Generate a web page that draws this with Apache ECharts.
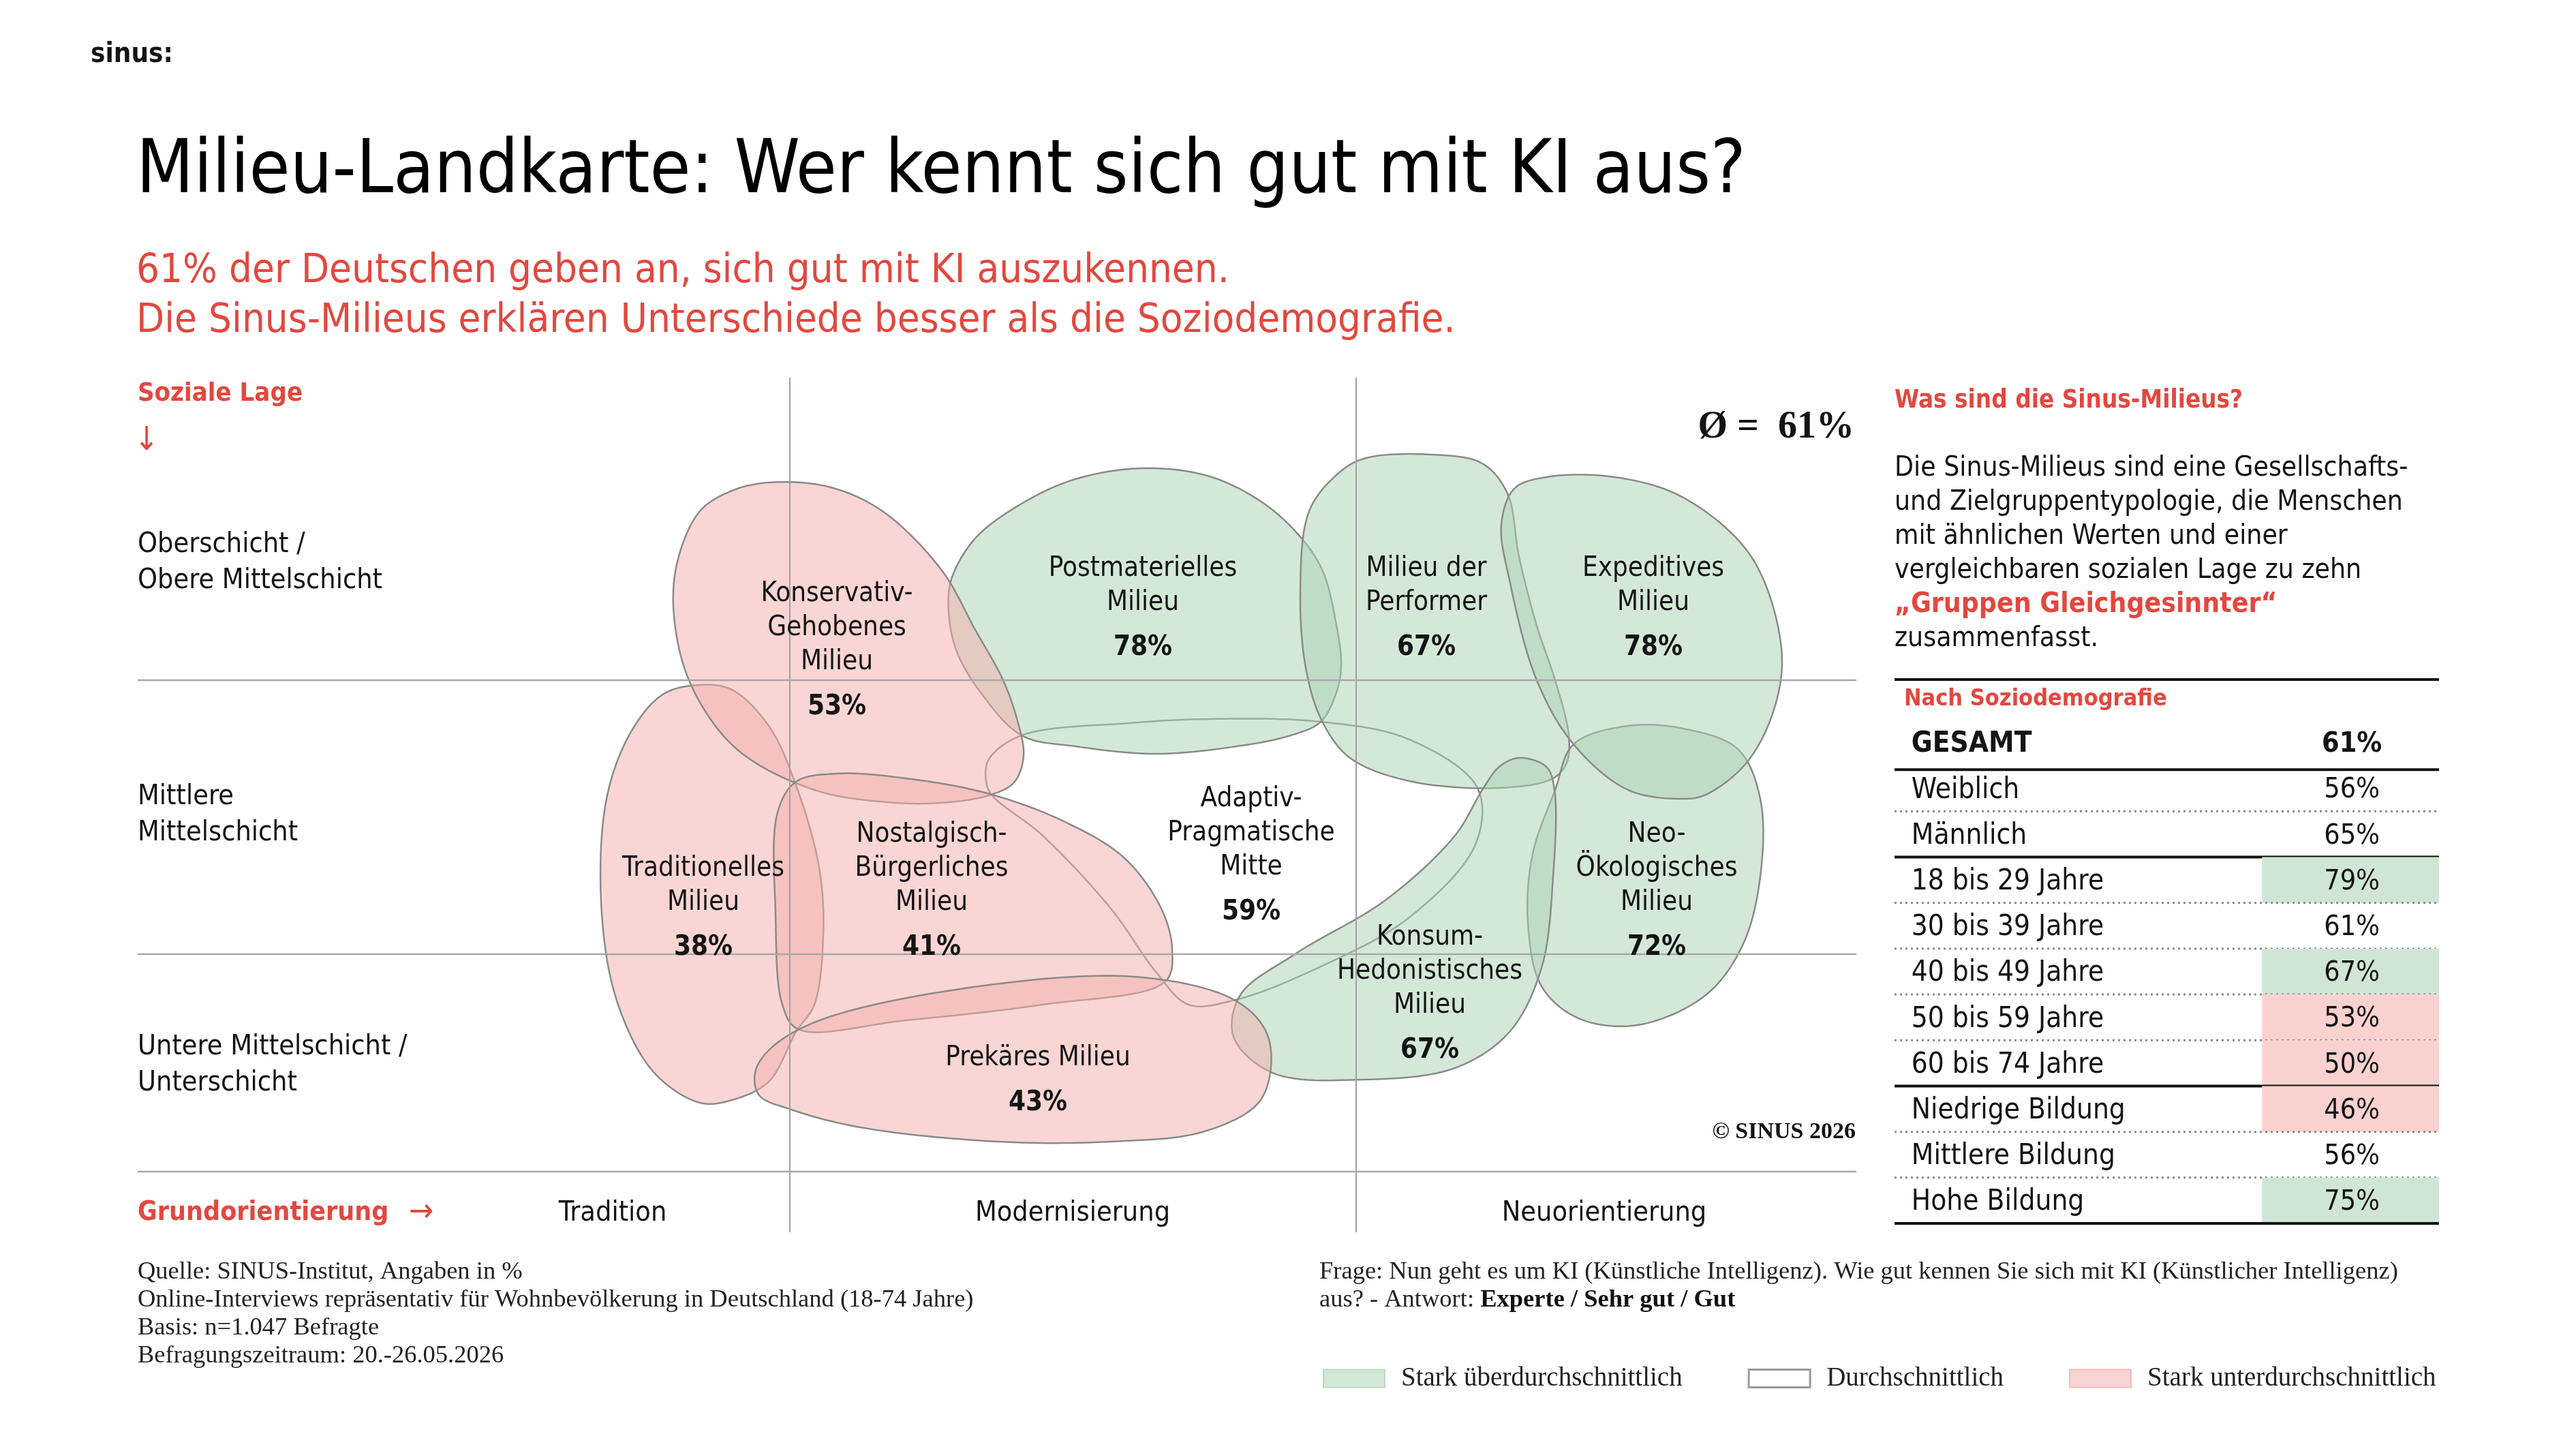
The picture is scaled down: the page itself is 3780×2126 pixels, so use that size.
<!DOCTYPE html>
<html>
<head>
<meta charset="utf-8">
<script src="https://cdn.jsdelivr.net/npm/echarts@6/dist/echarts.min.js"></script>
<style>
  html, body { margin: 0; padding: 0; background: #fff; }
  #main { width: 3780px; height: 2126px; }
</style>
</head>
<body>
<div id="main"></div>
<script>
// ---- Daten ----
const milieuNames = [
  'Konservativ-\nGehobenes\nMilieu',
  'Postmaterielles\nMilieu',
  'Milieu der\nPerformer',
  'Expeditives\nMilieu',
  'Adaptiv-\nPragmatische\nMitte',
  'Traditionelles\nMilieu',
  'Nostalgisch-\nBürgerliches\nMilieu',
  'Neo-\nÖkologisches\nMilieu',
  'Konsum-\nHedonistisches\nMilieu',
  'Prekäres Milieu'
];
const milieuValues = [53, 78, 67, 78, 59, 38, 41, 72, 67, 43];
const averageValue = 61;

const socialClasses = ['Oberschicht /\nObere Mittelschicht', 'Mittlere\nMittelschicht', 'Untere Mittelschicht /\nUnterschicht'];
const orientations = ['Tradition', 'Modernisierung', 'Neuorientierung'];

const demoRows = ['GESAMT', 'Weiblich', 'Männlich', '18 bis 29 Jahre', '30 bis 39 Jahre', '40 bis 49 Jahre',
  '50 bis 59 Jahre', '60 bis 74 Jahre', 'Niedrige Bildung', 'Mittlere Bildung', 'Hohe Bildung'];
const demoValues = [61, 56, 65, 79, 61, 67, 53, 50, 46, 56, 75];
const demoGroups = ['Gesamt', 'Geschlecht', 'Geschlecht', 'Alter', 'Alter', 'Alter', 'Alter', 'Alter',
  'Bildung', 'Bildung', 'Bildung'];

const legendNames = ['Stark überdurchschnittlich', 'Durchschnittlich', 'Stark unterdurchschnittlich'];

// ---- Kartengeometrie (Karteneinheiten) ----
const mapW = 252.2, mapH = 125.4;
const orientationBounds = [95.7, 178.8];
const classBounds = [44.4, 84.6, 116.5];
// Umrisse der Milieus, gleiche Reihenfolge wie milieuNames
const milieuOutlines = [
  [[92.6,15.4],[101.3,16.0],[109.3,19.6],[118.0,28.3],[122.9,37.0],[126.9,44.2],[129.0,50.0],[130.0,55.5],[128.6,59.4],[124.9,61.3],[117.8,62.4],[110.0,62.3],[99.3,60.5],[87.9,54.5],[81.2,45.1],[78.7,35.0],[79.2,27.0],[82.5,19.6],[87.2,16.6]],
  [[147.5,13.3],[157.3,14.5],[165.3,18.5],[170.8,23.6],[173.9,28.4],[175.9,36.3],[176.6,42.2],[175.9,46.2],[173.6,50.5],[169.2,52.5],[161.3,54.1],[149.4,55.2],[137.6,54.1],[129.7,52.5],[123.7,46.2],[120.2,40.2],[119.0,34.3],[119.4,29.6],[122.9,23.6],[129.7,18.5],[137.6,14.9]],
  [[179.9,11.9],[189.9,11.3],[197.3,12.6],[201.0,17.0],[202.7,26.3],[205.3,36.4],[208.0,44.4],[210.0,52.5],[209.7,56.5],[207.7,58.8],[200.0,60.2],[186.6,59.2],[177.9,55.8],[173.9,50.6],[171.5,43.1],[170.6,31.7],[171.9,19.6],[175.9,14.3]],
  [[206.7,14.6],[216.7,14.6],[226.8,17.6],[236.8,26.3],[241.2,39.7],[240.2,48.4],[236.1,56.5],[230.1,61.2],[226.8,61.8],[218.7,60.5],[210.7,53.8],[205.3,44.4],[201.3,29.7],[200.1,21.6],[202.0,16.3]],
  [[125.3,61.2],[124.5,59.2],[124.9,56.0],[129.7,52.5],[145.5,50.7],[157.3,50.1],[173.6,50.5],[186.6,53.1],[196.6,60.2],[196.3,68.5],[186.6,79.2],[173.2,86.6],[161.1,91.3],[154.2,92.0],[149.5,87.3],[142.8,77.9],[132.8,67.2]],
  [[82.5,45.1],[87.2,45.8],[92.6,51.1],[96.6,59.8],[100.0,71.9],[100.6,81.9],[99.3,92.0],[96.6,96.0],[92.6,103.3],[87.2,106.0],[82.5,106.4],[75.8,102.0],[70.5,92.0],[68.1,78.6],[68.8,61.8],[72.5,51.8],[77.2,46.4]],
  [[96.6,59.3],[93.9,63.8],[93.6,78.6],[94.6,92.0],[96.9,95.6],[112.7,94.3],[132.8,92.0],[150.8,88.6],[151.8,83.9],[150.2,77.9],[144.8,70.5],[136.1,65.2],[124.7,61.0],[112.7,58.8],[102.6,58.1]],
  [[210.7,53.8],[218.7,51.1],[226.8,51.5],[234.8,54.5],[238.1,61.8],[238.1,73.2],[235.5,83.3],[230.1,90.6],[220.1,95.0],[211.4,94.0],[206.0,89.3],[204.0,79.9],[204.7,69.9],[208.0,60.5]],
  [[202.7,55.8],[206.7,57.1],[207.9,60.5],[207.7,73.2],[206.0,86.6],[201.3,96.0],[193.3,101.3],[179.9,103.0],[166.5,102.0],[160.8,96.7],[161.8,90.6],[169.8,84.6],[183.2,76.6],[193.3,67.2],[197.3,60.5],[199.8,57.1]],
  [[90.6,102.0],[92.6,98.7],[99.3,94.6],[119.4,89.9],[146.2,87.9],[160.9,91.3],[165.6,96.0],[166.2,102.0],[164.2,106.7],[156.2,110.7],[142.8,112.1],[126.1,112.1],[106.0,110.0],[95.9,107.4],[91.2,105.3]]
];
const labelAnchors = [[102.6,40.9],[147.5,34.7],[189.1,34.7],[222.4,34.7],[163.4,71.0],[83.0,78.7],[116.5,76.2],[222.9,76.2],[189.6,91.3],[132.1,104.0]];
// Zeichenreihenfolge (spätere liegen oben)
const drawOrder = [1, 2, 4, 7, 8, 3, 5, 0, 6, 9];

// ---- Stil ----
const SANS = '"DejaVu Sans Condensed", "DejaVu Sans", sans-serif';
const SERIF = '"Liberation Serif", "DejaVu Serif", serif';
const RED = '#e2483f';
const INK = '#141414';
const BLOB_FILL = ['rgba(169,209,177,0.5)', 'rgba(255,255,255,0)', 'rgba(243,173,169,0.5)'];
const CELL_FILL = ['#d0e6d5', null, '#f9d2d0'];

// 0 = stark über, 1 = durchschnittlich, 2 = stark unter
function classOf(v) {
  const d = v - averageValue;
  return d >= 6 ? 0 : (d <= -6 ? 2 : 1);
}

// geschlossene Catmull-Rom-Kurve (zentripetal) durch die Pixelpunkte
function closedSpline(pts, steps) {
  const n = pts.length, out = [];
  const dist = (a, b) => Math.pow(Math.hypot(b[0] - a[0], b[1] - a[1]), 0.5) || 1e-4;
  for (let i = 0; i < n; i++) {
    const p0 = pts[(i - 1 + n) % n], p1 = pts[i], p2 = pts[(i + 1) % n], p3 = pts[(i + 2) % n];
    const d1 = dist(p0, p1), d2 = dist(p1, p2), d3 = dist(p2, p3);
    const b1 = [0, 1].map(k => (d1 * d1 * p2[k] - d2 * d2 * p0[k] + (2 * d1 * d1 + 3 * d1 * d2 + d2 * d2) * p1[k]) / (3 * d1 * (d1 + d2)));
    const b2 = [0, 1].map(k => (d3 * d3 * p1[k] - d2 * d2 * p3[k] + (2 * d3 * d3 + 3 * d3 * d2 + d2 * d2) * p2[k]) / (3 * d3 * (d3 + d2)));
    for (let s = 0; s < steps; s++) {
      const t = s / steps, u = 1 - t;
      out.push([0, 1].map(k => u * u * u * p1[k] + 3 * u * u * t * b1[k] + 3 * u * t * t * b2[k] + t * t * t * p2[k]));
    }
  }
  return out;
}

function blobSeries(k) {
  return {
    type: 'custom',
    name: legendNames[k],
    xAxisIndex: 0, yAxisIndex: 0,
    z: 2,
    silent: true,
    itemStyle: { color: CELL_FILL[k] || '#fff' },
    data: drawOrder.filter(i => classOf(milieuValues[i]) === k).map(i => [i, milieuValues[i]]),
    renderItem: function (params, api) {
      const i = api.value(0);
      const pts = milieuOutlines[i].map(p => api.coord(p));
      return {
        type: 'polygon',
        shape: { points: closedSpline(pts, 14) },
        style: { fill: BLOB_FILL[k], stroke: '#8a8a8a', lineWidth: 2.5, lineJoin: 'round' }
      };
    }
  };
}

const chart = echarts.init(document.getElementById('main'));

const option = {
  backgroundColor: '#fff',
  animation: false,
  grid: [
    { left: 202, top: 554, width: 2522, height: 1254 },
    { left: 2780, top: 1056, width: 799, height: 739 }
  ],
  xAxis: [
    { type: 'value', gridIndex: 0, min: 0, max: mapW, show: false },
    { type: 'value', gridIndex: 1, min: 0, max: 100, show: false }
  ],
  yAxis: [
    { type: 'value', gridIndex: 0, min: 0, max: mapH, inverse: true, show: false },
    { type: 'category', gridIndex: 1, data: demoRows, inverse: true, show: false }
  ],
  legend: {
    data: [
      { name: legendNames[0], itemStyle: { color: '#d2e7d6', borderColor: '#bcd9c2', borderWidth: 2 } },
      { name: legendNames[1], itemStyle: { color: '#fff', borderColor: '#9a9a9a', borderWidth: 3 } },
      { name: legendNames[2], itemStyle: { color: '#f9d3d1', borderColor: '#f1bdb9', borderWidth: 2 } }
    ],
    left: 1936, top: 1998,
    icon: 'rect',
    itemWidth: 90, itemHeight: 26, itemGap: 96,
    selectedMode: false,
    textStyle: { fontFamily: SERIF, fontSize: 39, color: '#222', padding: [0, 0, 0, 19] }
  },
  series: [
    blobSeries(1),
    blobSeries(0),
    blobSeries(2),
    {
      // Raster der Milieu-Landkarte
      type: 'custom', name: 'raster', xAxisIndex: 0, yAxisIndex: 0, z: 3, silent: true,
      data: [[0, 0]],
      renderItem: function (params, api) {
        const children = [];
        orientationBounds.forEach(x => {
          const a = api.coord([x, 0]), b = api.coord([x, mapH]);
          children.push({ type: 'line', shape: { x1: a[0], y1: a[1], x2: b[0], y2: b[1] },
            style: { stroke: '#a0a0a0', lineWidth: 2 } });
        });
        classBounds.forEach(y => {
          const a = api.coord([0, y]), b = api.coord([mapW, y]);
          children.push({ type: 'line', shape: { x1: a[0], y1: a[1], x2: b[0], y2: b[1] },
            style: { stroke: '#a8a8a8', lineWidth: 2.5 } });
        });
        return { type: 'group', children: children };
      }
    },
    {
      // Milieu-Beschriftungen
      type: 'custom', name: 'labels', xAxisIndex: 0, yAxisIndex: 0, z: 4, silent: true,
      data: milieuValues.map((v, i) => [i, v]),
      renderItem: function (params, api) {
        const i = api.value(0);
        const p = api.coord(labelAnchors[i]);
        const lines = milieuNames[i].split('\n').map(s => '{n|' + s + '}');
        return {
          type: 'text', x: p[0], y: p[1],
          style: {
            text: lines.join('\n') + '\n{p|' + api.value(1) + '%}',
            align: 'center', verticalAlign: 'middle',
            rich: {
              n: { fontFamily: SANS, fontSize: 40, lineHeight: 50, fill: INK },
              p: { fontFamily: SANS, fontSize: 40, fontWeight: 'bold', lineHeight: 82, fill: INK }
            }
          }
        };
      }
    },
    {
      // Achsenbeschriftungen der Landkarte
      type: 'custom', name: 'achsen', xAxisIndex: 0, yAxisIndex: 0, z: 4, silent: true,
      data: [[0, 0]],
      renderItem: function (params, api) {
        const t = (pos, text, s) => {
          const p = api.coord(pos);
          return { type: 'text', x: p[0], y: p[1], style: Object.assign({
            text: text, fontFamily: SANS, fontSize: 41, fill: INK, verticalAlign: 'middle', align: 'left'
          }, s || {}) };
        };
        const classY = [27.2, 64.2, 100.9];
        const orientX = [69.7, 137.2, 215.2];
        const children = [
          t([0, 2.4], 'Soziale Lage', { fill: RED, fontWeight: 'bold', fontSize: 38 }),
          t([1.3, 9.4], '↓', { fill: RED, fontSize: 48, align: 'center' }),
          t([0, 122.6], 'Grundorientierung', { fill: RED, fontWeight: 'bold', fontSize: 39 }),
          t([41.6, 122.6], '→', { fill: RED, fontSize: 48, align: 'center' }),
          t([mapW - 0.3, 7.4], 'Ø =  ' + averageValue + '%', { fontFamily: SERIF, fontWeight: 'bold', fontSize: 56, align: 'right' }),
          t([mapW - 0.1, 110.7], '© SINUS 2026', { fontFamily: SERIF, fontWeight: 'bold', fontSize: 34, align: 'right' })
        ];
        socialClasses.forEach((c, i) => children.push(t([0, classY[i]], c, { lineHeight: 53 })));
        orientations.forEach((o, i) => children.push(t([orientX[i], 122.6], o, { align: 'center' })));
        return { type: 'group', children: children };
      }
    },
    {
      // Tabelle nach Soziodemografie
      type: 'custom', name: 'tabelle', xAxisIndex: 1, yAxisIndex: 1, z: 4, silent: true,
      data: demoValues.map((v, i) => [v, i]),
      encode: { x: 0, y: 1 },
      renderItem: function (params, api) {
        const i = params.dataIndex;
        const v = api.value(0);
        const h = api.size([0, 1])[1];
        const c = api.coord([0, i]);
        const top = c[1] - h / 2, bottom = c[1] + h / 2;
        const xL = api.coord([0, i])[0], xR = api.coord([100, i])[0];
        const xCell = api.coord([67.5, i])[0];
        const xText = api.coord([3.1, i])[0];
        const xVal = api.coord([84, i])[0];
        const bold = i === 0 ? 'bold' : 'normal';
        const children = [];
        const k = classOf(v);
        if (i > 0 && CELL_FILL[k]) {
          children.push({ type: 'rect', shape: { x: xCell, y: top, width: xR - xCell, height: h },
            style: { fill: CELL_FILL[k] } });
        }
        children.push({ type: 'text', x: xText, y: c[1] + 3, style: { text: demoRows[i], fontFamily: SANS,
          fontSize: 42, fontWeight: bold, fill: INK, verticalAlign: 'middle', align: 'left' } });
        children.push({ type: 'text', x: xVal, y: c[1] + 3, style: { text: v + '%', fontFamily: SANS,
          fontSize: 41, fontWeight: bold, fill: INK, verticalAlign: 'middle', align: 'center' } });
        const last = i === demoRows.length - 1;
        const groupEnd = last || demoGroups[i] !== demoGroups[i + 1];
        const yLine = i === 0 ? bottom + 6 : bottom;
        children.push({ type: 'line', shape: { x1: xL, y1: yLine, x2: xR, y2: yLine },
          style: groupEnd ? { stroke: '#111', lineWidth: 4 } : { stroke: '#8a8a8a', lineWidth: 3, lineDash: [3, 5] } });
        return { type: 'group', children: children };
      }
    }
  ],
  graphic: [
    { type: 'text', x: 133, y: 81, style: { text: 'sinus:', fontFamily: SANS, fontWeight: 'bold', fontSize: 40, fill: INK, verticalAlign: 'middle' } },
    { type: 'text', x: 200, y: 254, style: { text: 'Milieu-Landkarte: Wer kennt sich gut mit KI aus?', fontFamily: SANS, fontSize: 108.5, fill: '#000', verticalAlign: 'middle' } },
    { type: 'text', x: 200, y: 399, style: { text: averageValue + '% der Deutschen geben an, sich gut mit KI auszukennen.', fontFamily: SANS, fontSize: 59.5, fill: RED, verticalAlign: 'middle' } },
    { type: 'text', x: 200, y: 472, style: { text: 'Die Sinus-Milieus erklären Unterschiede besser als die Soziodemografie.', fontFamily: SANS, fontSize: 59.5, fill: RED, verticalAlign: 'middle' } },
    { type: 'text', x: 2780, y: 589, style: { text: 'Was sind die Sinus-Milieus?', fontFamily: SANS, fontWeight: 'bold', fontSize: 36.5, fill: RED, verticalAlign: 'middle' } },
    { type: 'text', x: 2780, y: 662, style: {
      text: '{t|Die Sinus-Milieus sind eine Gesellschafts-}\n{t|und Zielgruppentypologie, die Menschen}\n{t|mit ähnlichen Werten und einer}\n{t|vergleichbaren sozialen Lage zu zehn}\n{r|„Gruppen Gleichgesinnter“}\n{t|zusammenfasst.}',
      verticalAlign: 'top',
      rich: {
        t: { fontFamily: SANS, fontSize: 40.5, lineHeight: 50, fill: INK },
        r: { fontFamily: SANS, fontSize: 40.5, fontWeight: 'bold', lineHeight: 50, fill: RED }
      } } },
    { type: 'line', shape: { x1: 2780, y1: 997, x2: 3579, y2: 997 }, style: { stroke: '#111', lineWidth: 4 } },
    { type: 'text', x: 2794, y: 1026, style: { text: 'Nach Soziodemografie', fontFamily: SANS, fontWeight: 'bold', fontSize: 34, fill: RED, verticalAlign: 'middle' } },
    { type: 'text', x: 202, y: 1846, style: {
      text: 'Quelle: SINUS-Institut, Angaben in %\nOnline-Interviews repräsentativ für Wohnbevölkerung in Deutschland (18-74 Jahre)\nBasis: n=1.047 Befragte\nBefragungszeitraum: 20.-26.05.2026',
      fontFamily: SERIF, fontSize: 36.5, lineHeight: 41, fill: '#222', verticalAlign: 'top' } },
    { type: 'text', x: 1936, y: 1846, style: {
      text: '{a|Frage: Nun geht es um KI (Künstliche Intelligenz). Wie gut kennen Sie sich mit KI (Künstlicher Intelligenz)}\n{a|aus? - Antwort: }{b|Experte / Sehr gut / Gut}',
      verticalAlign: 'top',
      rich: {
        a: { fontFamily: SERIF, fontSize: 36.5, lineHeight: 41, fill: '#222' },
        b: { fontFamily: SERIF, fontSize: 36.5, lineHeight: 41, fontWeight: 'bold', fill: '#111' }
      } } }
  ]
};

chart.setOption(option);
</script>
</body>
</html>
